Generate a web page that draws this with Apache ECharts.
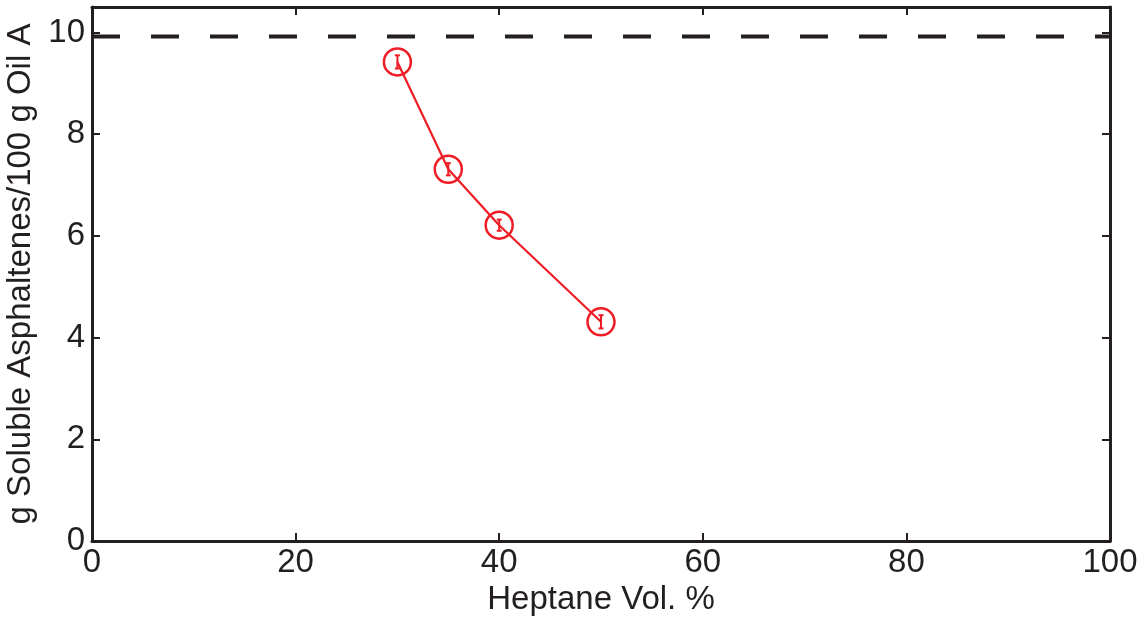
<!DOCTYPE html>
<html>
<head>
<meta charset="utf-8">
<script src="https://cdn.jsdelivr.net/npm/echarts@6/dist/echarts.min.js"></script>
<style>
  html, body { margin: 0; padding: 0; background: #fff; }
  #chart { width: 1148px; height: 617px; }
</style>
</head>
<body>
<div id="chart"></div>
<script>
// Heptane volume fraction (%) and soluble asphaltenes measured at each
const heptaneVol = [30, 35, 40, 50];
const solubleAsph = [9.42, 7.31, 6.21, 4.31];
const solubleErr = [0.13, 0.12, 0.11, 0.13];
// Total asphaltene content of the oil (horizontal reference)
const totalAsph = 9.92;
const xTicks = [0, 20, 40, 60, 80, 100];
const yTicks = [0, 2, 4, 6, 8, 10];

const FONT = 'Liberation Sans, Arial, Helvetica, sans-serif';
const RED = '#ee1c25';
const INK = '#231f20';
const FS = 33;

const chart = echarts.init(document.getElementById('chart'), null, { renderer: 'canvas' });

const tickCommon = { show: true, inside: true, length: 8, lineStyle: { color: INK, width: 2 } };
const lineCommon = { show: true, onZero: false, lineStyle: { color: INK, width: 3 } };

const errData = heptaneVol.map((x, i) => [x, solubleAsph[i] - solubleErr[i], solubleAsph[i] + solubleErr[i]]);

chart.setOption({
  animation: false,
  backgroundColor: '#fff',
  grid: { left: 92, right: 38, top: 7, bottom: 76, containLabel: false, outerBoundsMode: 'none' },
  xAxis: [{
    type: 'value', min: 0, max: 100, interval: 20,
    name: 'Heptane Vol. %', nameLocation: 'middle', nameGap: 41,
    nameTextStyle: { fontFamily: FONT, fontSize: FS, color: INK },
    axisLine: lineCommon,
    axisTick: Object.assign({ customValues: xTicks }, tickCommon),
    axisLabel: { fontFamily: FONT, fontSize: FS, color: INK, margin: 5,
      customValues: xTicks },
    splitLine: { show: false }
  }, {
    type: 'value', min: 0, max: 100, interval: 20, position: 'top',
    axisLine: lineCommon,
    axisTick: Object.assign({ customValues: xTicks }, tickCommon),
    axisLabel: { show: false },
    splitLine: { show: false }
  }],
  yAxis: [{
    type: 'value', min: 0, max: 10.5, interval: 2,
    name: 'g Soluble Asphaltenes/100 g Oil A', nameLocation: 'middle', nameGap: 54,
    nameTextStyle: { fontFamily: FONT, fontSize: FS, color: INK },
    axisLine: lineCommon,
    axisTick: Object.assign({ customValues: yTicks }, tickCommon),
    axisLabel: { fontFamily: FONT, fontSize: FS, color: INK, margin: 7,
      customValues: yTicks },
    splitLine: { show: false }
  }, {
    type: 'value', min: 0, max: 10.5, interval: 2, position: 'right',
    axisLine: lineCommon,
    axisTick: Object.assign({ customValues: yTicks }, tickCommon),
    axisLabel: { show: false },
    splitLine: { show: false }
  }],
  series: [{
    // total asphaltenes reference line
    type: 'line',
    data: [[0, totalAsph], [100, totalAsph]],
    symbol: 'none',
    lineStyle: { color: INK, width: 4, type: [28, 31] },
    silent: true,
    z: 2
  }, {
    type: 'line',
    data: heptaneVol.map((x, i) => [x, solubleAsph[i]]),
    symbol: 'circle',
    symbolSize: 27,
    showAllSymbol: true,
    itemStyle: { color: 'rgba(0,0,0,0)', borderColor: RED, borderWidth: 2.5 },
    lineStyle: { color: RED, width: 2.2 },
    z: 3
  }, {
    // error bars
    type: 'custom',
    data: errData,
    z: 4,
    renderItem: function (params, api) {
      const x = api.value(0);
      const lo = api.coord([x, api.value(1)]);
      const hi = api.coord([x, api.value(2)]);
      const hw = 2.5;
      const style = { stroke: RED, lineWidth: 2 };
      return {
        type: 'group',
        children: [
          { type: 'line', shape: { x1: lo[0], y1: lo[1], x2: hi[0], y2: hi[1] }, style: style },
          { type: 'line', shape: { x1: lo[0] - hw, y1: lo[1], x2: lo[0] + hw, y2: lo[1] }, style: style },
          { type: 'line', shape: { x1: hi[0] - hw, y1: hi[1], x2: hi[0] + hw, y2: hi[1] }, style: style }
        ]
      };
    }
  }]
});
</script>
</body>
</html>
